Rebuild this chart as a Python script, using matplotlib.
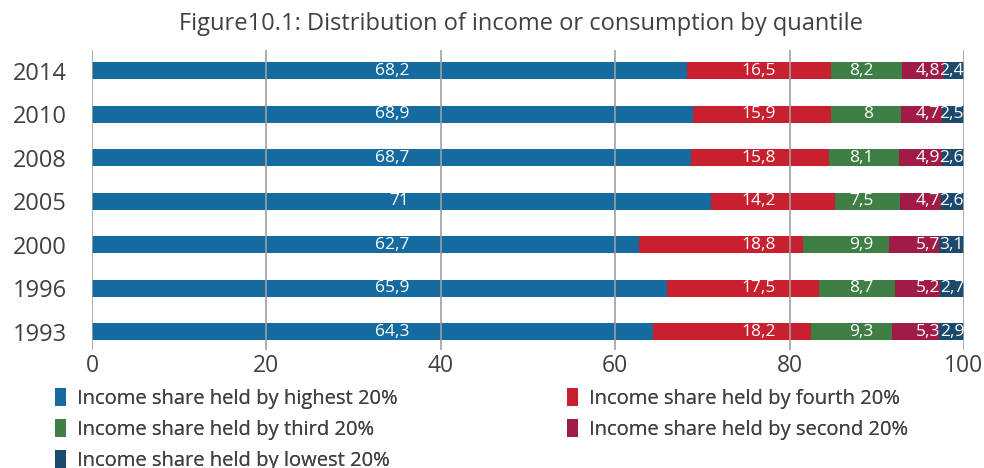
import matplotlib
matplotlib.use("Agg")
import matplotlib.pyplot as plt
from matplotlib.patches import Patch

plt.rcParams['font.family'] = ['Open Sans', 'DejaVu Sans']

years = ["1993", "1996", "2000", "2005", "2008", "2010", "2014"]
highest = [64.3, 65.9, 62.7, 71, 68.7, 68.9, 68.2]
fourth = [18.2, 17.5, 18.8, 14.2, 15.8, 15.9, 16.5]
third = [9.3, 8.7, 9.9, 7.5, 8.1, 8, 8.2]
second = [5.3, 5.2, 5.7, 4.7, 4.9, 4.7, 4.8]
lowest = [2.9, 2.7, 3.1, 2.6, 2.6, 2.5, 2.4]

series_names = ["Income share held by highest 20%", "Income share held by fourth 20%",
                "Income share held by third 20%", "Income share held by second 20%",
                "Income share held by lowest 20%"]
colors = ["#156aa0", "#c8202f", "#3f7f46", "#a11c45", "#1a4a6e"]
series = [highest, fourth, third, second, lowest]
# right-aligned anchor (in axis units) of the data labels of each series
label_anchor = [36.4, 78.4, 89.6, 97.3, 100.0]

fig = plt.figure(figsize=(9.84, 4.68), dpi=100)
ax = fig.add_axes([92/984, 1-350/468, 872/984, 300/468])

ypos = list(range(len(years)))
left = [0.0] * len(years)
for vals, col, lx in zip(series, colors, label_anchor):
    ax.barh(ypos, vals, left=left, height=0.39, color=col, zorder=2)
    for y, v in zip(ypos, vals):
        lab = ("%g" % v).replace(".", ",")
        ax.text(lx, y, lab, ha="right", va="center", color="white",
                fontsize=12.5, zorder=4, clip_on=False)
    left = [a + b for a, b in zip(left, vals)]

ax.set_xlim(0, 100)
ax.set_ylim(-0.42, 6.48)
ax.set_yticks(ypos)
ax.set_yticklabels(years, fontsize=17, color="#404040")
ax.set_xticks([0, 20, 40, 60, 80, 100])
ax.set_xticklabels(["0", "20", "40", "60", "80", "100"], fontsize=16.5, color="#404040")
ax.tick_params(axis="y", length=0, pad=18)
ax.tick_params(axis="x", length=0, pad=3)
for s in ax.spines.values():
    s.set_visible(False)
ax.xaxis.grid(True, color="#a0a0a0", linewidth=1.2, zorder=3)
ax.set_axisbelow(False)
ax.yaxis.grid(False)

fig.text(521/984, 1-24/468, "Figure10.1: Distribution of income or consumption by quantile",
         ha="center", va="center", fontsize=17, color="#404040")

handles = [Patch(facecolor=c) for c in colors]
cols = [([0, 2, 4], 55), ([1, 3], 567)]
for idx, xpx in cols:
    leg = fig.legend([handles[i] for i in idx], [series_names[i] for i in idx],
                     ncol=1, loc="upper left", bbox_to_anchor=(xpx/984, 1-388/468),
                     frameon=False, fontsize=14.5, handlelength=0.55, handleheight=1.0,
                     handletextpad=0.55, labelspacing=0.5,
                     borderaxespad=0, borderpad=0)
    for t in leg.get_texts():
        t.set_color("#404040")
    fig.add_artist(leg)

fig.savefig("out.png", dpi=100)
